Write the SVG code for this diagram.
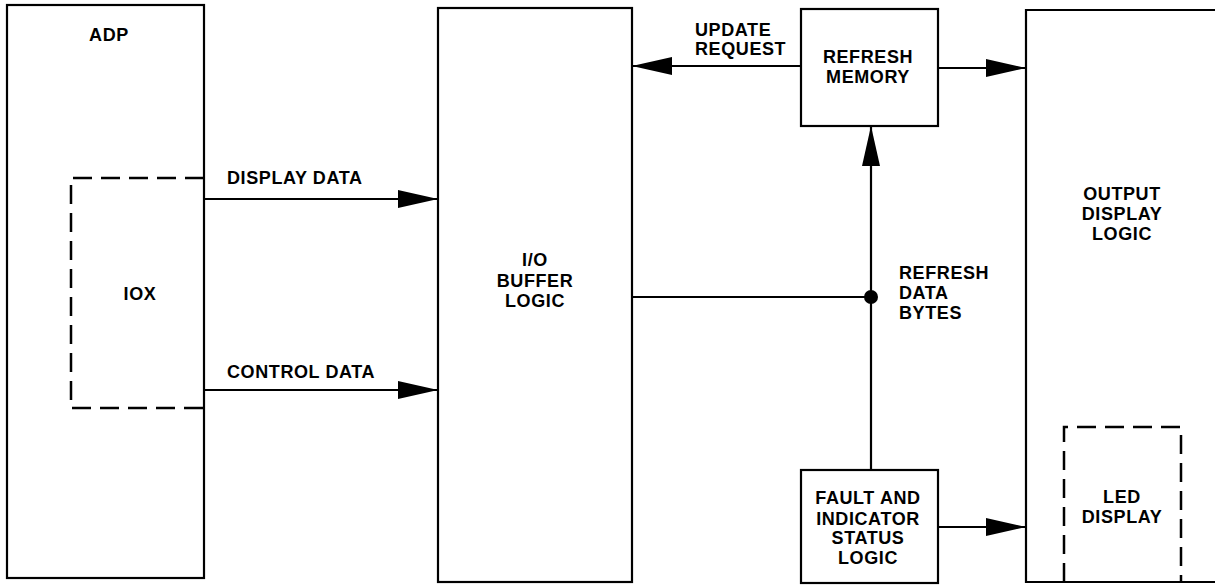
<svg xmlns="http://www.w3.org/2000/svg" width="1215" height="585" viewBox="0 0 1215 585">
<style>
.box{fill:none;stroke:#000;stroke-width:2.2}
.dash{fill:none;stroke:#000;stroke-width:2.5;stroke-dasharray:19 9}
.ln{fill:none;stroke:#000;stroke-width:2.2}
text{font-family:"Liberation Sans",Arial,sans-serif;font-weight:bold;font-size:18px;fill:#000;letter-spacing:0.6px}
.c{text-anchor:middle}
</style>
<defs>
<marker id="ah" markerUnits="userSpaceOnUse" markerWidth="42" markerHeight="20" refX="40" refY="9" orient="auto">
<path d="M0,0 L40,9 L0,18 z" fill="#000"/>
</marker>
</defs>
<rect width="1215" height="585" fill="#fff"/>
<g id="adp">
<rect class="box" x="7" y="5" width="197" height="573"/>
<text class="c" x="109" y="41">ADP</text>
</g>
<g id="iox">
<path class="dash" d="M204,178 H71 V408 H204"/>
<text class="c" x="140" y="300">IOX</text>
</g>
<g id="io-buffer">
<rect class="box" x="438" y="8" width="194" height="574"/>
<text class="c" x="535" y="266">I/O</text>
<text class="c" x="535" y="287">BUFFER</text>
<text class="c" x="535" y="307">LOGIC</text>
</g>
<g id="refresh-memory">
<rect class="box" x="801" y="9" width="137" height="117"/>
<text class="c" x="868" y="63">REFRESH</text>
<text class="c" x="868" y="83">MEMORY</text>
</g>
<g id="fault">
<rect class="box" x="801" y="470" width="137" height="113"/>
<text class="c" x="868" y="504">FAULT AND</text>
<text class="c" x="868" y="525">INDICATOR</text>
<text class="c" x="868" y="544">STATUS</text>
<text class="c" x="868" y="564">LOGIC</text>
</g>
<g id="output-display">
<path class="box" d="M1220,10 H1026 V582 H1220"/>
<text class="c" x="1122" y="200">OUTPUT</text>
<text class="c" x="1122" y="220">DISPLAY</text>
<text class="c" x="1122" y="240">LOGIC</text>
</g>
<g id="led">
<path class="dash" d="M1064,582 V427 H1181 V582"/>
<text class="c" x="1122" y="503">LED</text>
<text class="c" x="1122" y="523">DISPLAY</text>
</g>
<g id="connectors">
<line class="ln" x1="204" y1="199" x2="438" y2="199" marker-end="url(#ah)"/>
<line class="ln" x1="204" y1="390" x2="438" y2="390" marker-end="url(#ah)"/>
<line class="ln" x1="801" y1="66" x2="632" y2="66" marker-end="url(#ah)"/>
<line class="ln" x1="938" y1="68" x2="1026" y2="68" marker-end="url(#ah)"/>
<line class="ln" x1="938" y1="527" x2="1026" y2="527" marker-end="url(#ah)"/>
<line class="ln" x1="871" y1="470" x2="871" y2="126" marker-end="url(#ah)"/>
<line class="ln" x1="632" y1="297" x2="871" y2="297"/>
<circle cx="871" cy="297" r="7" fill="#000"/>
<text x="227" y="184">DISPLAY DATA</text>
<text x="227" y="378">CONTROL DATA</text>
<text x="695" y="36">UPDATE</text>
<text x="695" y="55">REQUEST</text>
<text x="899" y="279">REFRESH</text>
<text x="899" y="299">DATA</text>
<text x="899" y="319">BYTES</text>
</g>
</svg>
